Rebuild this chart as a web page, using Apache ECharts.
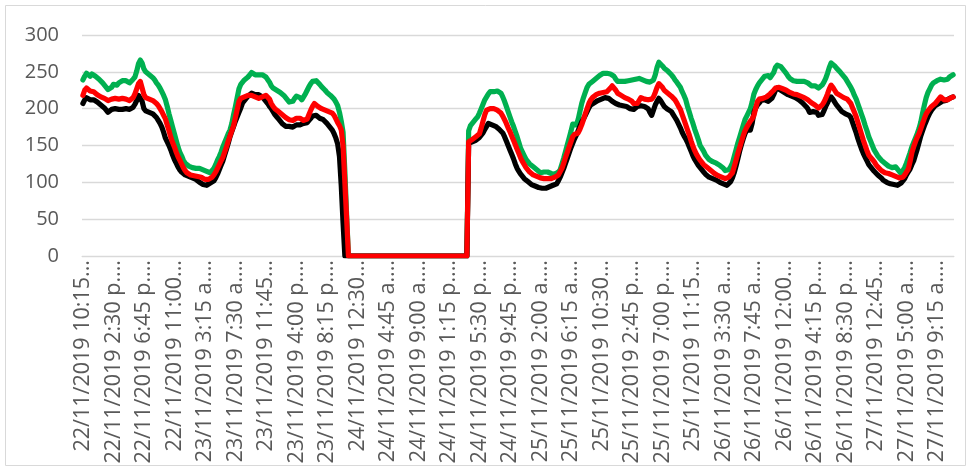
<!DOCTYPE html>
<html>
<head>
<meta charset="utf-8">
<script src="https://cdn.jsdelivr.net/npm/echarts@6/dist/echarts.min.js"></script>
<style>
html,body{margin:0;padding:0;background:#fff;}
#chart{width:971px;height:471px;}
</style>
</head>
<body>
<div id="chart"></div>
<script>
// tick labels shown on the category axis (every 17th category)
var tickLabels = [
"22/11/2019 10:15...","22/11/2019 2:30 p....","22/11/2019 6:45 p....","22/11/2019 11:00...",
"23/11/2019 3:15 a....","23/11/2019 7:30 a....","23/11/2019 11:45...","23/11/2019 4:00 p....",
"23/11/2019 8:15 p....","24/11/2019 12:30...","24/11/2019 4:45 a....","24/11/2019 9:00 a....",
"24/11/2019 1:15 p....","24/11/2019 5:30 p....","24/11/2019 9:45 p....","25/11/2019 2:00 a....",
"25/11/2019 6:15 a....","25/11/2019 10:30...","25/11/2019 2:45 p....","25/11/2019 7:00 p....",
"25/11/2019 11:15...","26/11/2019 3:30 a....","26/11/2019 7:45 a....","26/11/2019 12:00...",
"26/11/2019 4:15 p....","26/11/2019 8:30 p....","27/11/2019 12:45...","27/11/2019 5:00 a....",
"27/11/2019 9:15 a...."
];

// categories: 15-minute readings from 22/11/2019 10:15
var categoryCount = 486;
var categories = [];
(function(){
  var t0 = Date.UTC(2019,10,22,10,15);
  function p(n){return (n<10?'0':'')+n;}
  for (var i=0;i<categoryCount;i++){
    var d = new Date(t0 + i*900000);
    var h = d.getUTCHours(), ap = h<12 ? 'a. m.' : 'p. m.';
    var h12 = h%12===0 ? 12 : h%12;
    categories.push(p(d.getUTCDate())+'/'+p(d.getUTCMonth()+1)+'/'+d.getUTCFullYear()+' '+h12+':'+p(d.getUTCMinutes())+':00 '+ap);
  }
})();

var seriesGreen = [
239,244,248,246,244,247,247,244,242,240,
238,235,232,229,226,225,229,233,234,232,
235,236,238,236,238,237,235,237,240,243,
251,261,266,262,254,250,248,246,245,242,
239,235,232,228,223,218,212,203,193,184,
175,166,157,148,141,136,130,126,124,122,
121,120,119,119,118,119,118,117,117,115,
114,113,115,119,124,130,135,141,148,154,
160,166,171,180,192,203,215,227,233,236,
239,241,243,246,249,248,246,247,246,245,
246,244,243,241,236,231,228,226,225,223,
222,221,218,215,212,209,207,210,214,217,
219,215,212,214,220,225,230,234,237,239,
238,236,233,230,228,225,222,220,218,216,
213,209,204,195,183,168,115,55,0,0,
0,0,0,0,0,0,0,0,0,0,
0,0,0,0,0,0,0,0,0,0,
0,0,0,0,0,0,0,0,0,0,
0,0,0,0,0,0,0,0,0,0,
0,0,0,0,0,0,0,0,0,0,
0,0,0,0,0,0,0,0,0,0,
0,0,0,0,0,170,177,180,183,186,
189,194,200,206,212,216,220,223,224,223,
223,224,222,221,216,210,203,196,189,182,
176,169,162,154,146,141,136,131,128,125,
123,121,119,117,115,113,113,114,115,114,
113,112,111,111,112,114,117,125,133,142,
151,160,169,179,181,178,185,196,207,215,
222,229,233,235,237,239,241,243,245,247,
248,247,248,248,247,246,244,240,237,236,
237,236,237,237,238,236,239,238,240,242,
241,240,239,238,237,237,236,238,239,246,
256,263,262,258,255,253,251,249,246,243,
239,236,234,229,223,218,212,203,195,187,
180,172,165,158,150,146,142,137,134,131,
129,128,127,126,125,123,121,119,116,114,
117,121,126,135,144,153,161,169,177,185,
190,195,200,209,220,226,231,235,238,241,
244,246,245,242,243,249,256,259,258,257,
255,251,248,244,241,239,238,237,237,238,
237,236,237,237,235,233,231,230,231,229,
228,229,232,236,241,248,256,262,261,258,
255,253,250,247,245,241,237,233,229,224,
218,213,206,199,192,185,177,170,162,156,
150,144,140,136,133,130,128,126,124,122,
121,120,121,121,118,115,112,114,120,126,
133,140,148,154,160,166,173,182,194,205,
215,222,227,232,235,236,238,239,240,238,
239,241,240,243,245,246
];

var seriesBlack = [
207,212,215,213,212,214,212,211,209,207,
205,203,201,198,195,197,199,201,200,198,
199,197,199,201,200,198,199,200,202,206,
211,218,220,210,200,197,196,195,194,193,
191,188,184,180,175,168,160,155,150,144,
137,131,126,121,117,114,112,110,109,108,
107,106,105,104,102,100,99,97,96,96,
97,99,100,102,106,111,117,123,129,137,
145,153,162,169,176,183,189,195,201,208,
211,214,217,219,221,220,219,220,219,218,
216,213,210,207,203,200,196,192,189,186,
183,180,178,176,175,176,177,175,177,178,
177,178,179,180,180,181,184,187,190,192,
191,189,187,186,185,183,180,177,174,171,
166,160,152,135,95,45,0,0,0,0,
0,0,0,0,0,0,0,0,0,0,
0,0,0,0,0,0,0,0,0,0,
0,0,0,0,0,0,0,0,0,0,
0,0,0,0,0,0,0,0,0,0,
0,0,0,0,0,0,0,0,0,0,
0,0,0,0,0,0,0,0,0,0,
0,0,0,0,0,153,154,155,156,157,
159,161,164,167,172,176,180,179,178,177,
176,175,172,170,167,162,156,150,144,138,
132,125,119,115,111,108,105,103,101,99,
97,96,95,94,93,92,92,93,92,93,
94,95,96,97,98,102,107,113,119,126,
133,140,147,153,159,164,170,176,182,186,
191,196,201,205,207,208,209,211,212,213,
214,215,216,214,212,210,209,207,206,205,
205,204,203,203,201,200,198,199,201,203,
205,204,204,203,203,200,195,191,198,205,
210,214,211,207,203,201,199,197,196,192,
188,184,179,174,168,163,159,154,148,142,
136,131,127,123,120,117,114,111,109,107,
106,105,104,103,101,100,99,98,97,96,
98,101,106,113,122,132,142,151,159,166,
171,172,171,180,195,201,205,208,211,212,
212,211,210,210,214,219,225,228,226,225,
224,222,221,219,218,217,216,215,214,212,
210,208,206,203,200,195,194,196,198,195,
191,189,192,197,203,208,213,216,213,209,
205,202,199,196,194,193,192,191,188,181,
174,167,159,152,145,139,134,129,124,121,
118,115,113,110,108,106,103,101,100,99,
98,97,97,96,96,97,99,101,105,110,
114,118,124,129,137,145,154,163,170,177,
183,189,194,198,201,204,206,207,208,210,
211,211,212,214,215,216
];

var seriesRed = [
218,225,228,226,224,225,223,221,219,218,
216,215,214,212,211,212,213,214,214,212,
213,212,214,215,213,212,211,212,215,220,
227,234,237,228,219,215,214,213,212,211,
210,207,204,200,196,191,186,178,170,161,
154,148,141,135,130,125,120,116,113,111,
110,110,109,109,108,108,107,106,104,103,
104,105,107,110,114,119,124,129,134,141,
148,156,163,170,177,188,199,210,214,215,
216,217,218,219,218,217,216,215,214,215,
216,217,218,219,213,207,203,200,198,196,
194,192,190,188,186,185,186,184,186,187,
186,187,185,184,182,186,192,198,203,207,
205,203,201,200,199,198,197,196,195,194,
191,186,181,177,171,150,100,50,0,0,
0,0,0,0,0,0,0,0,0,0,
0,0,0,0,0,0,0,0,0,0,
0,0,0,0,0,0,0,0,0,0,
0,0,0,0,0,0,0,0,0,0,
0,0,0,0,0,0,0,0,0,0,
0,0,0,0,0,0,0,0,0,0,
0,0,0,0,0,155,157,158,160,162,
164,166,174,183,192,198,199,200,201,200,
199,198,197,194,190,185,180,174,169,163,
157,151,145,139,133,128,124,120,117,114,
112,110,109,108,107,106,105,105,106,105,
104,105,105,107,109,110,112,119,126,134,
141,148,155,162,165,166,167,172,178,185,
193,200,207,212,215,217,219,220,221,222,
222,223,223,225,228,231,229,225,221,219,
218,216,215,214,213,212,210,207,205,207,
211,215,214,213,212,212,211,213,216,222,
229,234,233,229,225,223,221,219,217,216,
212,208,203,199,192,185,178,171,164,156,
149,143,138,134,130,127,124,122,120,118,
116,114,112,110,109,108,107,106,105,105,
107,110,113,121,130,139,147,155,163,170,
175,179,183,186,191,201,210,213,214,214,
214,216,218,220,222,225,228,230,229,228,
227,226,225,223,222,221,220,219,219,218,
217,216,215,214,212,210,208,207,205,203,
201,202,205,209,214,220,227,232,229,225,
221,219,218,216,215,214,213,212,207,201,
195,189,181,173,165,157,150,143,137,134,
131,128,124,121,119,116,114,113,113,112,
112,110,109,108,107,106,105,107,110,114,
118,128,140,148,155,161,166,173,180,187,
193,197,200,203,205,207,210,213,216,214,
212,210,212,214,215,216
];

var chart = echarts.init(document.getElementById('chart'), null, {renderer:'canvas'});
var lineBase = {type:'line', showSymbol:false, symbol:'none', smooth:false, animation:false};
chart.setOption({
  animation:false,
  backgroundColor:'#ffffff',
  graphic:[{type:'rect', shape:{x:5.5,y:5.5,width:960,height:460}, style:{fill:'none', stroke:'#d9d9d9', lineWidth:1}, silent:true}],
  grid:{left:82, right:17, top:35, bottom:215, containLabel:false},
  xAxis:{
    type:'category', data:categories, boundaryGap:true,
    axisLine:{show:true, lineStyle:{color:'#d9d9d9', width:1}},
    axisTick:{show:false},
    splitLine:{show:false},
    axisLabel:{
      interval:16, rotate:90, margin:4, color:'#595959',
      fontFamily:'Open Sans', fontSize:21.5,
      formatter:function(v, i){ return tickLabels[Math.round(i/17)] || ''; }
    }
  },
  yAxis:{
    type:'value', min:0, max:300, interval:50,
    axisLine:{show:false}, axisTick:{show:false},
    splitLine:{show:true, lineStyle:{color:'#d9d9d9', width:1.3}},
    axisLabel:{margin:23, color:'#595959', fontFamily:'Open Sans', fontSize:20}
  },
  series:[
    Object.assign({}, lineBase, {name:'Verde', data:seriesGreen, lineStyle:{color:'#00b050', width:5.2, cap:'round', join:'round'}, itemStyle:{color:'#00b050'}}),
    Object.assign({}, lineBase, {name:'Negro', data:seriesBlack, lineStyle:{color:'#000000', width:5.2, cap:'round', join:'round'}, itemStyle:{color:'#000000'}}),
    Object.assign({}, lineBase, {name:'Rojo', data:seriesRed, lineStyle:{color:'#ff0000', width:5.2, cap:'round', join:'round'}, itemStyle:{color:'#ff0000'}})
  ]
});
</script>
</body>
</html>
